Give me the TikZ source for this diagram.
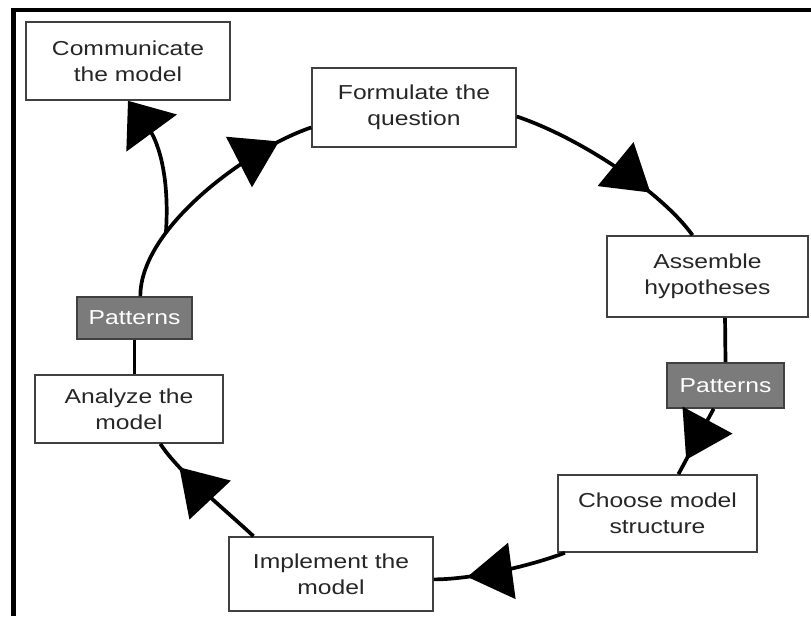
\documentclass[tikz,border=0pt]{standalone}
\usepackage{fontspec}
\newfontfamily\boxfont[FakeStretch=1.22]{Liberation Sans}
\usetikzlibrary{arrows.meta,decorations.markings}
\definecolor{boxline}{HTML}{404040}
\definecolor{txt}{HTML}{262626}
\definecolor{patfill}{HTML}{7B7B7B}
\begin{document}
\begin{tikzpicture}[x=1pt,y=-1pt,
  stepbox/.style={draw=boxline,line width=1.6pt,fill=white,inner sep=0pt,align=center,text=txt,
    font=\boxfont\fontsize{20.2}{26}\selectfont},
  patbox/.style={draw=boxline,line width=1.6pt,fill=patfill,inner sep=0pt,align=center,text=white,
    font=\boxfont\fontsize{20.2}{26}\selectfont},
  conn/.style={line width=3.7pt,draw=black,color=black},
  midarrow/.style={postaction={decorate},decoration={markings,
    mark=at position #1 with {\arrow{Triangle[length=45pt,width=56pt]}}}}]
\useasboundingbox (0,0) rectangle (811,616);
\fill[white] (0,0) rectangle (811,616);
% frame (top and left edges)
\draw[line width=4.6pt] (13.5,616) -- (13.5,10) -- (811,10);

% nodes
\node[stepbox,minimum width=204pt,minimum height=78pt] (comm) at (128,61) {Communicate\\the model};
\node[stepbox,minimum width=204pt,minimum height=79pt] (form) at (414,107.5) {Formulate the\\question};
\node[stepbox,minimum width=201pt,minimum height=81pt] (assem) at (707.5,276.5) {Assemble\\hypotheses};
\node[patbox,minimum width=117pt,minimum height=45pt] (patR) at (725.5,385.5) {Patterns};
\node[stepbox,minimum width=199pt,minimum height=77pt] (choose) at (657.5,513.5) {Choose model\\structure};
\node[stepbox,minimum width=204pt,minimum height=74pt] (impl) at (331,574) {Implement the\\model};
\node[stepbox,minimum width=188pt,minimum height=68pt] (analyze) at (129,409) {Analyze the\\model};
\node[patbox,minimum width=115pt,minimum height=42pt] (patL) at (134.5,318) {Patterns};

% connectors
\draw[conn,midarrow=0.72] (form.-5) .. controls +(65,22) and +(-30,-42) .. (assem.110);
\draw[conn] (assem.-67) -- (patR.north);
\draw[conn,midarrow=0.78] (patR.-117) -- (choose.62);
\draw[conn,midarrow=0.75] (choose.-157) .. controls +(-40,15) and +(35,0) .. (impl.-3);
\draw[conn,midarrow=0.77] (impl.154) .. controls +(-30,-28) and +(18,28) .. (analyze.-48);
\draw[conn] (patL.south |- analyze.north) -- (patL.south);
\draw[conn,midarrow=0.86] (patL.75) .. controls +(0,-70) and +(-60,20) .. (form.191) coordinate[pos=0.3] (br);
\draw[conn,-{Triangle[length=40pt,width=62pt]}] (br) .. controls +(5,-73) and +(22,30) .. (comm.south);
\end{tikzpicture}
\end{document}
